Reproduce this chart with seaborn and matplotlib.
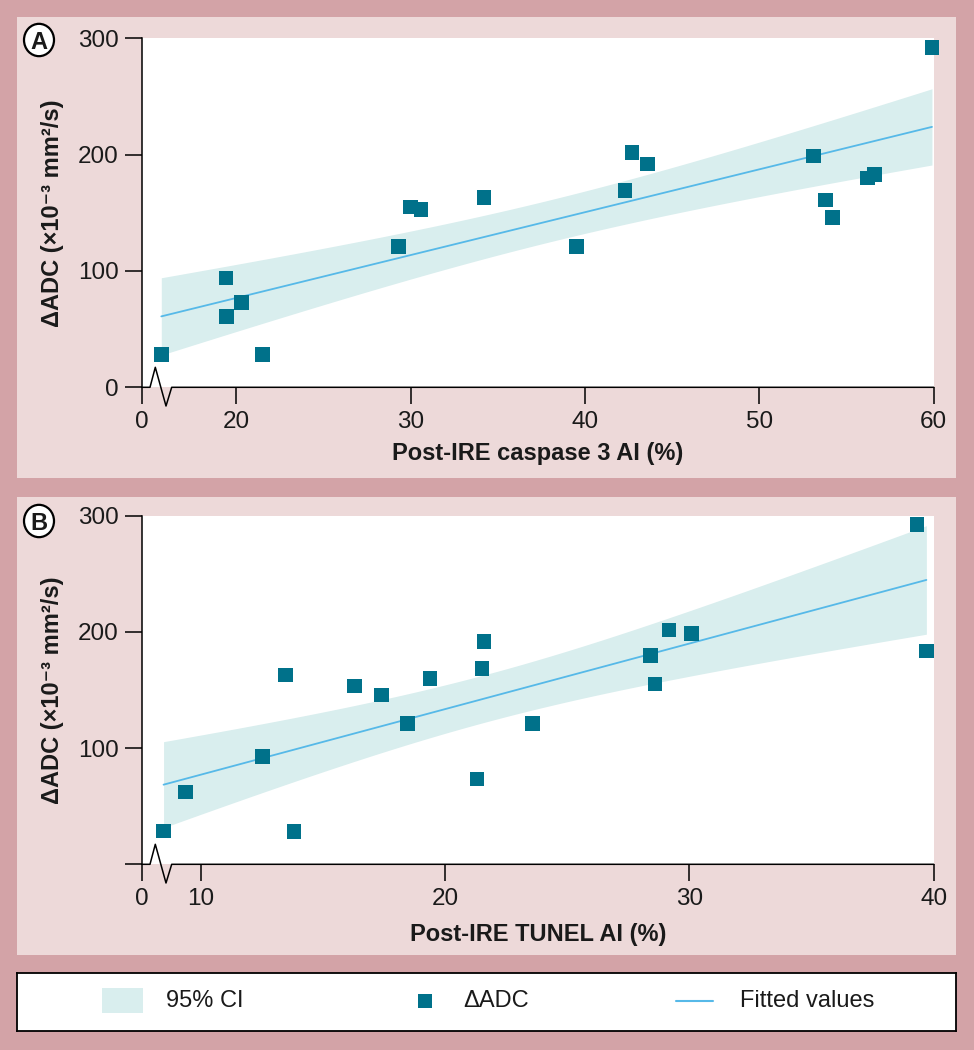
import numpy as np
import pandas as pd
import matplotlib
matplotlib.use("Agg")
import matplotlib.pyplot as plt
import seaborn as sns
from matplotlib.patches import Rectangle, Circle
from matplotlib.lines import Line2D

# ---------------- data ----------------
caspase_ai = [15.7, 19.4, 19.45, 20.3, 21.5, 29.3, 30.0, 30.6, 34.2, 39.5,
              42.3, 42.7, 43.6, 53.1, 53.8, 54.2, 56.2, 56.6, 59.9]
delta_adc_a = [28, 94, 61, 73, 28, 121, 155, 153, 163, 121,
               169, 202, 192, 199, 161, 146, 180, 183, 292]
tunel_ai = [8.48, 9.37, 12.53, 13.48, 13.81, 16.30, 17.40, 18.46, 19.39, 21.30,
            21.52, 21.60, 23.57, 28.40, 28.59, 29.16, 30.09, 39.31, 39.70]
delta_adc_b = [28.7, 62.2, 92.9, 162.9, 28.1, 153.4, 145.7, 121.0, 160.0, 73.4,
               168.6, 191.6, 121.0, 179.8, 155.1, 201.6, 198.7, 292.2, 183.5]

xticks_a = [20, 30, 40, 50, 60]
xticks_b = [10, 20, 30, 40]
yticks = [0, 100, 200, 300]
xlabel_a = "Post-IRE caspase 3 AI (%)"
xlabel_b = "Post-IRE TUNEL AI (%)"
ylabel = "\u0394ADC (\u00d710\u207b\u00b3 mm\u00b2/s)"
legend_labels = ["95% CI", "\u0394ADC", "Fitted values"]

# ---------------- style ----------------
sns.set_theme(style="ticks")
FONTS = ["Liberation Sans", "DejaVu Sans"]
plt.rcParams["font.family"] = FONTS
plt.rcParams["axes.linewidth"] = 1.1

DARK_BG = "#D3A3A7"
LIGHT_BG = "#EDD9D9"
MARKER = "#00718A"
LINE = "#56B9E8"
BAND = "#D9EEEE"
TXT = "#1a1a1a"

W, H = 974, 1050
fig = plt.figure(figsize=(W / 100, H / 100), dpi=100)
fig.patch.set_facecolor(DARK_BG)


def px_rect(x0, y0, x1, y1, **kw):
    fig.patches.append(Rectangle((x0 / W, 1 - y1 / H), (x1 - x0) / W, (y1 - y0) / H,
                                 transform=fig.transFigure, **kw))


px_rect(17, 17, 956, 478, facecolor=LIGHT_BG, edgecolor="none", zorder=-5)
px_rect(17, 497, 956, 955, facecolor=LIGHT_BG, edgecolor="none", zorder=-5)

T_CRIT = 2.110  # t(0.975, df=17)


def fit_band(x, y):
    x = np.asarray(x, float)
    y = np.asarray(y, float)
    n = len(x)
    b, a = np.polyfit(x, y, 1)
    resid = y - (a + b * x)
    s = np.sqrt(np.sum(resid ** 2) / (n - 2))
    sxx = np.sum((x - x.mean()) ** 2)
    grid = np.linspace(x.min(), x.max(), 200)
    pred = a + b * grid
    se = s * np.sqrt(1 / n + (grid - x.mean()) ** 2 / sxx)
    return pd.DataFrame({"x": grid, "fit": pred,
                         "lo": pred - T_CRIT * se, "hi": pred + T_CRIT * se})


def panel(rect_px, x, y, xticks, x0_pos, xmax, xlabel, show_y0, xlab_y):
    left, top, right, bottom = rect_px
    ax = fig.add_axes([left / W, 1 - bottom / H, (right - left) / W, (bottom - top) / H])
    ax.set_facecolor("white")
    df = pd.DataFrame({"x": x, "y": y})
    band = fit_band(x, y)
    ax.fill_between(band["x"], band["lo"], band["hi"], color=BAND, lw=0, zorder=1)
    sns.lineplot(data=band, x="x", y="fit", ax=ax, color=LINE, lw=1.3, zorder=2)
    sns.scatterplot(data=df, x="x", y="y", ax=ax, marker="s", s=110, color=MARKER,
                    edgecolor="none", zorder=3, clip_on=False)
    ax.set_xlim(x0_pos, xmax)
    ax.set_ylim(0, 300)
    ax.set_xticks([x0_pos] + xticks)
    ax.set_xticklabels(["0"] + [str(t) for t in xticks])
    ax.set_yticks(yticks)
    ax.set_yticklabels([("0" if show_y0 else "")] + [str(t) for t in yticks[1:]])
    ax.tick_params(axis="both", direction="out", length=12, width=1.1, color="black",
                   labelsize=17.5, labelcolor=TXT, pad=5)
    for s in ["top", "right", "bottom"]:
        ax.spines[s].set_visible(False)
    ax.spines["left"].set_color("black")
    # bottom spine with axis-break zigzag
    bw = right - left
    bh = bottom - top
    zx = np.array([0, 7.7, 13.0, 23.7, 29.4, bw]) / bw
    zy = np.array([0, 0, 20.0, -18.7, 0, 0]) / bh
    ax.plot(zx, zy, transform=ax.transAxes, color="black", lw=1.1, clip_on=False, zorder=5)
    ax.set_xlabel(xlabel, fontsize=17, fontweight="bold", color=TXT)
    ax.xaxis.set_label_coords(0.5, xlab_y)
    ax.set_ylabel(ylabel, fontsize=17, fontweight="bold", color=TXT)
    ax.yaxis.set_label_coords(-0.099, 0.5)
    return ax


ax_a = panel((142.3, 38.3, 933.7, 387.3), caspase_ai, delta_adc_a, xticks_a,
             14.61, 60, xlabel_a, True, -0.158)
ax_b = panel((142.3, 515.7, 933.7, 864.3), tunel_ai, delta_adc_b, xticks_b,
             7.61, 40, xlabel_b, False, -0.168)

for letter, (cx, cy) in [("A", (39, 40)), ("B", (39, 521))]:
    fig.patches.append(Circle((cx / W, 1 - cy / H), 15 / W, transform=fig.transFigure,
                              facecolor="white", edgecolor="black", lw=1.6, zorder=5))
    fig.text(cx / W, 1 - cy / H, letter, ha="center", va="center_baseline",
             fontsize=17, fontweight="bold", color=TXT, zorder=6)

# ---------------- legend box ----------------
lx0, ly0, lx1, ly1 = 17, 973, 956, 1031
lax = fig.add_axes([lx0 / W, 1 - ly1 / H, (lx1 - lx0) / W, (ly1 - ly0) / H])
lax.set_xlim(lx0, lx1)
lax.set_ylim(ly1, ly0)
lax.set_facecolor("white")
for s in lax.spines.values():
    s.set_visible(True)
    s.set_color("black")
    s.set_linewidth(1.3)
lax.set_xticks([])
lax.set_yticks([])
ymid = 1001
lax.add_patch(Rectangle((102, 988), 41, 25, facecolor=BAND, edgecolor="none"))
lax.text(166, ymid, legend_labels[0], va="center", ha="left", fontsize=17, color=TXT)
lax.scatter([425], [ymid], marker="s", s=90, color=MARKER, edgecolor="none")
lax.text(463, ymid, legend_labels[1], va="center", ha="left", fontsize=17, color=TXT)
lax.add_line(Line2D([676, 713], [ymid, ymid], color=LINE, lw=1.5))
lax.text(740, ymid, legend_labels[2], va="center", ha="left", fontsize=17, color=TXT)

fig.savefig("out.png", dpi=100, facecolor=fig.get_facecolor())
